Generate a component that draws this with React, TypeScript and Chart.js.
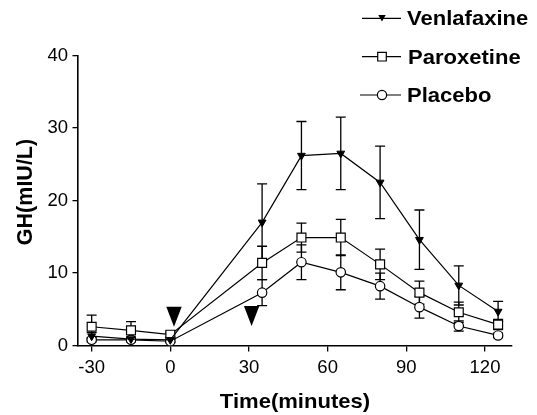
import React, { useEffect, useRef } from 'react';
import { Chart, registerables } from 'chart.js';

Chart.register(...registerables);

const times = [-30, -15, 0, 35, 50, 65, 80, 95, 110, 125];
const venlafaxine = [1.3, 0.9, 0.8, 17.0, 26.2, 26.5, 22.5, 14.6, 8.3, 4.7];
const venlafaxineErr = [0.5, 0.3, 0.3, 5.3, 4.7, 5.0, 5.0, 4.1, 2.7, 1.4];
const paroxetine = [2.6, 2.1, 1.5, 11.4, 14.9, 14.9, 11.2, 7.3, 4.6, 2.9];
const paroxetineErr = [1.6, 1.2, 0.3, 2.3, 2.0, 2.5, 2.1, 1.6, 1.4, 0.7];
const placebo = [0.8, 0.8, 0.6, 7.3, 11.5, 10.1, 8.2, 5.3, 2.7, 1.4];
const placeboErr = [0.3, 0.3, 0.2, 1.8, 2.4, 2.4, 1.8, 1.5, 0.7, 0.3];
const arrowTimes = [1.4, 31.0];
const arrowTips = [2.6, 2.7];
const xTicks = [-30, 0, 30, 60, 90, 120];
const yTicks = [0, 10, 20, 30, 40];
const seriesNames = ['Venlafaxine', 'Paroxetine', 'Placebo'];
const xTitle = 'Time(minutes)';
const yTitle = 'GH(mIU/L)';

const FONT = 'Arial, "Liberation Sans", Helvetica, sans-serif';

function drawMarker(c: CanvasRenderingContext2D, style: string, x: number, y: number) {
  c.beginPath();
  if (style === 'tri') {
    const r = 4.3;
    const h = r * 1.5;
    const w = r * 0.87;
    c.moveTo(x - w, y - h / 2);
    c.lineTo(x + w, y - h / 2);
    c.lineTo(x, y + h / 2);
    c.closePath();
    c.fillStyle = '#000';
    c.fill();
  } else if (style === 'rect') {
    const s = 4.3;
    c.rect(x - s, y - s, 2 * s, 2 * s);
    c.fillStyle = '#fff';
    c.fill();
    c.stroke();
  } else {
    c.arc(x, y, 4.6, 0, Math.PI * 2);
    c.fillStyle = '#fff';
    c.fill();
    c.stroke();
  }
}

export default function App() {
  const ref = useRef<HTMLCanvasElement>(null);
  useEffect(() => {
    document.body.style.margin = '0';
    const canvas = ref.current!;
    const mk = (vals: number[]) => times.map((t, i) => ({ x: t, y: vals[i] }));

    const errorBars = {
      id: 'errorBars',
      beforeDatasetsDraw(chart: any) {
        const c = chart.ctx;
        const xs = chart.scales.x;
        const ys = chart.scales.y;
        c.save();
        c.strokeStyle = '#000';
        c.lineWidth = 1.3;
        chart.data.datasets.forEach((ds: any) => {
          const err = ds.errors;
          if (!err) return;
          ds.data.forEach((p: any, j: number) => {
            const x = xs.getPixelForValue(p.x);
            const y1 = ys.getPixelForValue(p.y + err[j]);
            const y2 = ys.getPixelForValue(p.y - err[j]);
            c.beginPath();
            c.moveTo(x, y1);
            c.lineTo(x, y2);
            c.moveTo(x - 5, y1);
            c.lineTo(x + 5, y1);
            c.moveTo(x - 5, y2);
            c.lineTo(x + 5, y2);
            c.stroke();
          });
        });
        c.restore();
      },
    };

    const extras = {
      id: 'extras',
      afterDraw(chart: any) {
        const c = chart.ctx;
        const xs = chart.scales.x;
        const ys = chart.scales.y;
        c.save();
        // arrowheads
        c.fillStyle = '#000';
        arrowTimes.forEach((t, i) => {
          const x = xs.getPixelForValue(t);
          const y = ys.getPixelForValue(arrowTips[i]);
          c.beginPath();
          c.moveTo(x - 7.7, y - 20);
          c.lineTo(x + 7.7, y - 20);
          c.lineTo(x, y);
          c.closePath();
          c.fill();
        });
        // axis titles
        c.fillStyle = '#000';
        c.font = 'bold 21px ' + FONT;
        c.textAlign = 'center';
        c.textBaseline = 'alphabetic';
        c.save();
        c.translate(295, 408);
        c.scale(1.05, 1);
        c.fillText(xTitle, 0, 0);
        c.restore();
        c.save();
        c.font = 'bold 21.5px ' + FONT;
        c.translate(32, 192);
        c.rotate(-Math.PI / 2);
        c.fillText(yTitle, 0, 0);
        c.restore();
        // legend
        const styles = ['tri', 'rect', 'circ'];
        const ly = [18.3, 56.7, 95];
        const lineStart = [362, 362, 360];
        const textStart = [407, 408, 407];
        c.strokeStyle = '#000';
        c.lineWidth = 1.2;
        c.textAlign = 'left';
        c.font = 'bold 19.5px ' + FONT;
        seriesNames.forEach((name, i) => {
          c.beginPath();
          c.moveTo(lineStart[i], ly[i]);
          c.lineTo(401, ly[i]);
          c.stroke();
          drawMarker(c, styles[i], 382, ly[i]);
          c.fillStyle = '#000';
          c.save();
          c.translate(textStart[i], ly[i] + 6.8);
          c.scale(1.13, 1);
          c.fillText(name, 0, 0);
          c.restore();
        });
        c.restore();
      },
    };

    const chart = new Chart(canvas, {
      type: 'line',
      data: {
        datasets: [
          {
            label: seriesNames[0],
            data: mk(venlafaxine),
            errors: venlafaxineErr,
            borderColor: '#000',
            borderWidth: 1.2,
            pointStyle: 'triangle',
            pointRotation: 180,
            pointRadius: 4.5,
            pointBackgroundColor: '#000',
            pointBorderColor: '#000',
            pointBorderWidth: 1,
          } as any,
          {
            label: seriesNames[1],
            data: mk(paroxetine),
            errors: paroxetineErr,
            borderColor: '#000',
            borderWidth: 1.2,
            pointStyle: 'rect',
            pointRadius: 6.3,
            pointBackgroundColor: '#fff',
            pointBorderColor: '#000',
            pointBorderWidth: 1.2,
          } as any,
          {
            label: seriesNames[2],
            data: mk(placebo),
            errors: placeboErr,
            borderColor: '#000',
            borderWidth: 1.2,
            pointStyle: 'circle',
            pointRadius: 4.7,
            pointBackgroundColor: '#fff',
            pointBorderColor: '#000',
            pointBorderWidth: 1.2,
          } as any,
        ],
      },
      options: {
        animation: false,
        responsive: false,
        layout: { padding: { left: 0, top: 55.5, right: 25, bottom: 0 } },
        plugins: { legend: { display: false }, tooltip: { enabled: false } },
        scales: {
          x: {
            type: 'linear',
            min: -35.4,
            max: 130.3,
            afterBuildTicks: (s: any) => {
              s.ticks = xTicks.map((v) => ({ value: v }));
            },
            afterFit: (s: any) => {
              s.height = 69.4;
            },
            grid: { drawOnChartArea: false, drawTicks: true, tickLength: 6, color: '#000', lineWidth: 1.3 },
            border: { display: true, color: '#000', width: 1.6 },
            ticks: {
              font: { family: FONT, size: 18.5 },
              color: '#000',
              padding: 5,
              maxRotation: 0,
              callback: (v: any) => String(v),
            },
          },
          y: {
            type: 'linear',
            min: 0,
            max: 40,
            afterBuildTicks: (s: any) => {
              s.ticks = yTicks.map((v) => ({ value: v }));
            },
            afterFit: (s: any) => {
              s.width = 77.5;
            },
            grid: { drawOnChartArea: false, drawTicks: true, tickLength: 5, color: '#000', lineWidth: 1.3 },
            border: { display: true, color: '#000', width: 1.6 },
            ticks: {
              font: { family: FONT, size: 18.5 },
              color: '#000',
              padding: 4.5,
              callback: (v: any) => String(v),
            },
          },
        },
      },
      plugins: [errorBars, extras],
    } as any);
    return () => chart.destroy();
  }, []);
  return <canvas ref={ref} width={537} height={415} style={{ display: 'block' }} />;
}
